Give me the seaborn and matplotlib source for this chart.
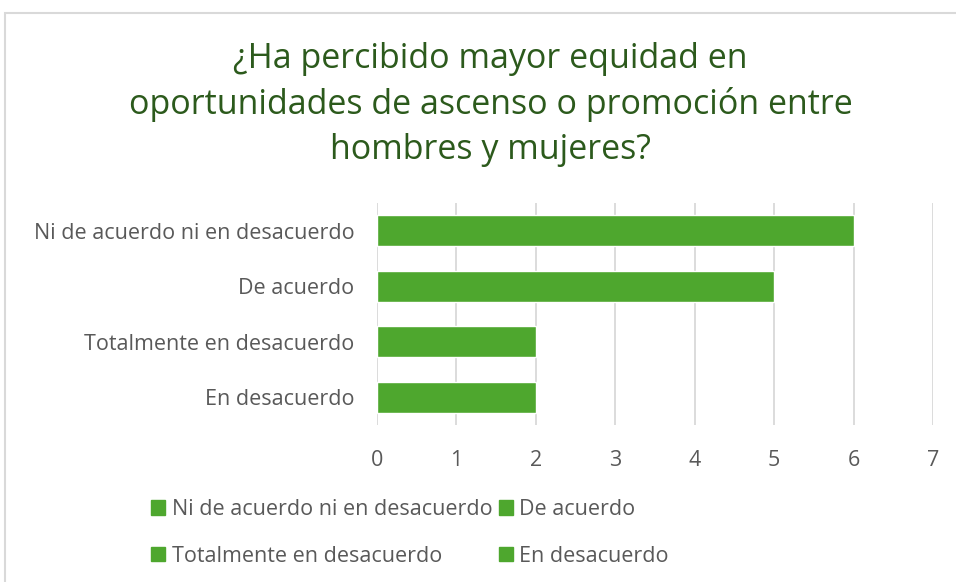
import matplotlib
matplotlib.use("Agg")
import matplotlib.pyplot as plt
import matplotlib.patches as mpatches
import seaborn as sns
import pandas as pd

# Data
categories = [
    "Ni de acuerdo ni en desacuerdo", "De acuerdo",
    "Totalmente en desacuerdo", "En desacuerdo"
]
counts = [6, 5, 2, 2]
x_ticks = [0, 1, 2, 3, 4, 5, 6, 7]
title_text = "¿Ha percibido mayor equidad en\noportunidades de ascenso o promoción entre\nhombres y mujeres?"

BAR_COLOR = "#4EA72E"
TITLE_COLOR = "#2C5A1C"
TEXT_COLOR = "#595959"
GRID_COLOR = "#D9D9D9"

df = pd.DataFrame({"Respuesta": categories, "Cantidad": counts})

sns.set_theme(style="white")
plt.rcParams["font.family"] = ["Open Sans", "DejaVu Sans"]

fig = plt.figure(figsize=(9.56, 5.82), dpi=100)
ax = fig.add_axes([0.394, 0.270, 0.582, 0.381])

sns.barplot(data=df, x="Cantidad", y="Respuesta", hue="Respuesta",
            palette=[BAR_COLOR] * len(categories), order=categories,
            width=0.56, legend=False, ax=ax, saturation=1)

ax.set_xlim(0, 7)
ax.set_xticks(x_ticks)
ax.set_ylim(3.5, -0.5)
ax.set_xlabel("")
ax.set_ylabel("")
ax.xaxis.grid(True, color=GRID_COLOR, linewidth=1.3)
ax.set_axisbelow(True)
for side in ["top", "right", "bottom", "left"]:
    ax.spines[side].set_visible(False)
ax.tick_params(axis="x", colors=TEXT_COLOR, labelsize=15.5, length=0, pad=18)
ax.tick_params(axis="y", colors=TEXT_COLOR, labelsize=15.5, length=0, pad=16)

fig.text(0.513, 0.820, title_text, ha="center", va="center",
         fontsize=24.5, color=TITLE_COLOR, linespacing=1.42)

# Legend with one entry per category
handles = [mpatches.Patch(color=BAR_COLOR, label=c) for c in categories]
order = [0, 2, 1, 3]
leg = fig.legend([handles[i] for i in order], [categories[i] for i in order],
                 ncol=2, loc="upper left", bbox_to_anchor=(0.138, 0.176),
                 frameon=False, fontsize=15.5, handlelength=0.65, handleheight=0.65,
                 handletextpad=0.3, columnspacing=0.3, labelspacing=1.2)
for t in leg.get_texts():
    t.set_color(TEXT_COLOR)

# Chart border
fig.patches.append(mpatches.Rectangle((0.005, -0.1), 1.2, 1.078, transform=fig.transFigure,
                                      fill=False, edgecolor="#D9D9D9", linewidth=1.5))

fig.savefig("out.png", dpi=100)
